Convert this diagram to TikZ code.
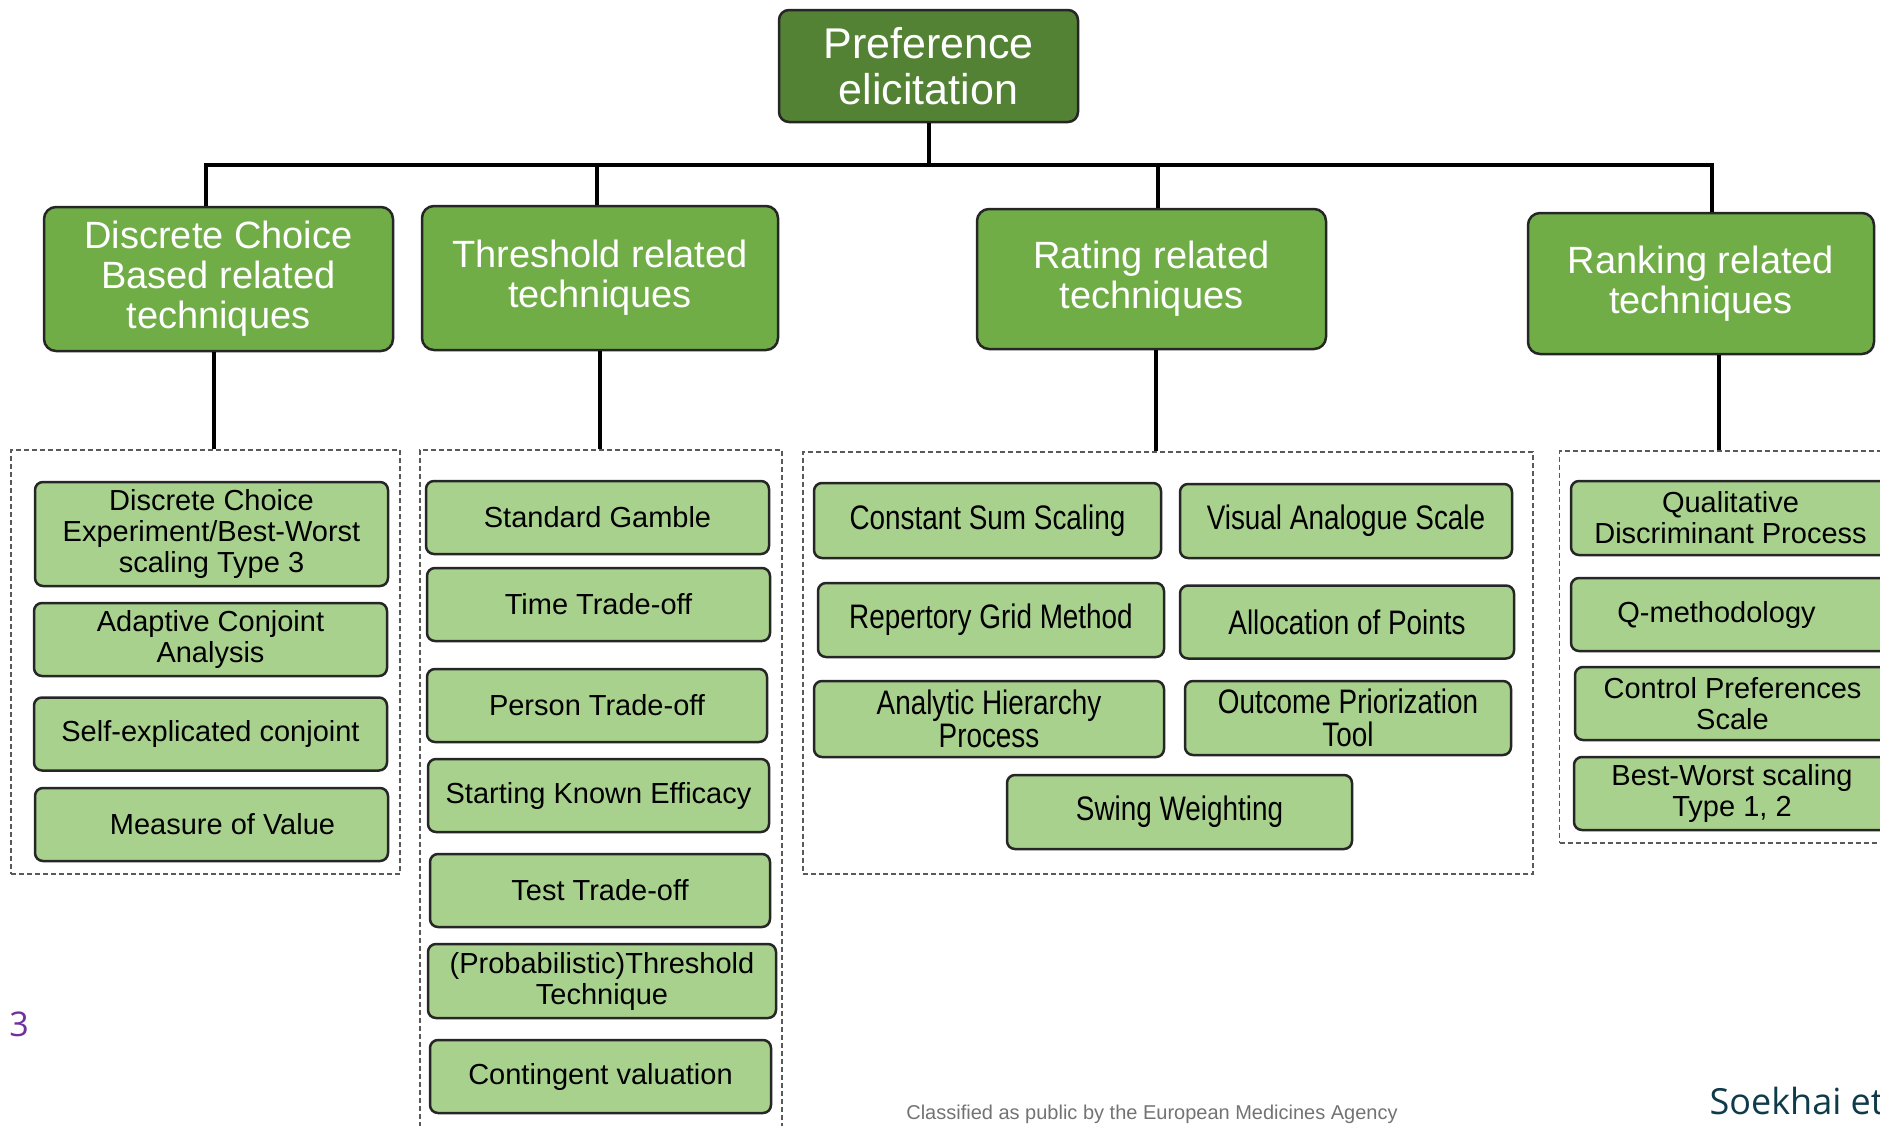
\documentclass[tikz,border=0pt]{standalone}
\usepackage{fontspec}
\setmainfont{Liberation Sans}
\newfontfamily\narrowfont[FakeStretch=0.82]{Liberation Sans}
\newfontfamily\notefont{Open Sans}
\usetikzlibrary{positioning}
\definecolor{darkgreen}{HTML}{548235}
\definecolor{midgreen}{HTML}{70AD47}
\definecolor{lightgreen}{HTML}{A9D18E}
\definecolor{edgegray}{HTML}{262626}
\definecolor{pagenum}{HTML}{7030A0}
\definecolor{citeblue}{HTML}{0E3A4A}
\tikzset{%
   head/.style={draw=edgegray, line width=2.5pt, rounded corners=10pt, fill=darkgreen, text=white, align=center, inner sep=0pt, font=\fontsize{43}{46}\selectfont},
   cat/.style={draw=edgegray, line width=2.5pt, rounded corners=12pt, fill=midgreen, text=white, align=center, inner sep=0pt, font=\fontsize{38}{40}\selectfont},
   tech/.style={draw=edgegray, line width=2.5pt, rounded corners=8pt, fill=lightgreen, align=center, inner sep=0pt, minimum height=73pt, font=\fontsize{29}{31}\selectfont},
   ntech/.style={tech, font=\narrowfont\fontsize{34}{33}\selectfont},
   grp/.style={draw=black!65, line width=1.5pt, dash pattern=on 5pt off 3pt, inner sep=0pt},
   link/.style={line width=4pt},
}

\begin{document}
\begin{tikzpicture}[x=1pt, y=-1pt]
   \useasboundingbox (0,0) rectangle (1880,1125);
   \clip (0,0) rectangle (1880,1125);
   % dashed groups
   \node[grp, minimum width=389pt, minimum height=424pt] (dcgrp) at (205.5,662) {};
   \node[grp, minimum width=362pt, minimum height=700pt] (thgrp) at (601,800) {};
   \node[grp, minimum width=730pt, minimum height=422pt] (rtgrp) at (1168,663) {};
   \node[grp, minimum width=345pt, minimum height=392pt] (rkgrp) at (1732,647) {};
   % top and categories
   \node[head, minimum width=299pt, minimum height=112pt] (pe) at (928.5,66) {Preference\\elicitation};
   \node[cat, minimum width=349pt, minimum height=144pt] (dc) at (218.5,279) {Discrete Choice\\Based related\\techniques};
   \node[cat, minimum width=356pt, minimum height=144pt] (th) at (600,278) {Threshold related\\techniques};
   \node[cat, minimum width=349pt, minimum height=140pt] (rt) at (1151.5,279) {Rating related\\techniques};
   \node[cat, minimum width=346pt, minimum height=141pt] (rk) at (1701,283.5) {Ranking related\\techniques};
   % discrete choice
   \node[tech, minimum width=353pt, minimum height=104pt] (dce) at (211.5,534) {Discrete Choice\\Experiment/Best-Worst\\scaling Type 3};
   \node[tech, minimum width=353pt] (aca) at (210.5,639.5) {Adaptive Conjoint\\Analysis};
   \node[tech, minimum width=353pt] (sec) at (210.5,734) {Self-explicated conjoint};
   \node[tech, minimum width=353pt] (mov) at (211.5,824.5) {\hspace{22pt}Measure of Value};
   % threshold
   \node[tech, minimum width=343pt] (sg) at (597.5,517.5) {Standard Gamble};
   \node[tech, minimum width=343pt] (tto) at (598.5,604.5) {Time Trade-off};
   \node[tech, minimum width=340pt] (pto) at (597,705.5) {Person Trade-off};
   \node[tech, minimum width=341pt] (ske) at (598.5,795.5) {Starting Known Efficacy};
   \node[tech, minimum width=340pt] (tst) at (600,890.5) {Test Trade-off};
   \node[tech, minimum width=348pt, minimum height=74pt] (ptt) at (602,981) {(Probabilistic)Threshold\\Technique};
   \node[tech, minimum width=341pt] (cv) at (600.5,1076.5) {Contingent valuation};
   % rating
   \node[ntech, minimum width=347pt, minimum height=75pt] (css) at (987.5,520.5) {Constant Sum Scaling};
   \node[ntech, minimum width=332pt, minimum height=74pt] (vas) at (1346,521) {Visual Analogue Scale};
   \node[ntech, minimum width=346pt, minimum height=74pt] (rgm) at (991,620) {Repertory Grid Method};
   \node[ntech, minimum width=334pt] (aop) at (1347,622) {Allocation of Points};
   \node[ntech, minimum width=350pt, minimum height=76pt] (ahp) at (989,719) {Analytic Hierarchy\\Process};
   \node[ntech, minimum width=326pt, minimum height=74pt] (opt) at (1348,718) {Outcome Priorization\\Tool};
   \node[ntech, minimum width=345pt, minimum height=74pt] (sw) at (1179.5,812) {Swing Weighting};
   % ranking
   \node[tech, minimum width=319pt, minimum height=74pt] (qdp) at (1730.5,518) {Qualitative\\Discriminant Process};
   \node[tech, minimum width=319pt] (qm) at (1730.5,614.5) {Q-methodology\hspace{28pt}};
   \node[tech, minimum width=315pt] (cps) at (1732.5,703.5) {Control Preferences\\Scale};
   \node[tech, minimum width=316pt] (bws) at (1732,793.5) {Best-Worst scaling\\Type 1, 2};
   % connectors
   \coordinate (bus) at (928.5,165);
   \draw[link] (pe.south) -- (bus);
   \draw[link] ([xshift=-13pt]dc.north) |- (bus);
   \draw[link] ([xshift=-3pt]th.north) |- (bus);
   \draw[link] ([xshift=6pt]rt.north) |- (bus);
   \draw[link] ([xshift=11pt]rk.north) |- (bus);
   \coordinate (dcdrop) at ([xshift=-5pt]dc.south);
   \coordinate (rtdrop) at ([xshift=4pt]rt.south);
   \coordinate (rkdrop) at ([xshift=18pt]rk.south);
   \draw[link] (dcdrop) -- (dcdrop |- dcgrp.north);
   \draw[link] (th.south) -- (th.south |- thgrp.north);
   \draw[link] (rtdrop) -- (rtdrop |- rtgrp.north);
   \draw[link] (rkdrop) -- (rkdrop |- rkgrp.north);
   % page texts
   \node[text=pagenum, font=\notefont\fontsize{34}{36}\selectfont] (pgnum) at (19,1024) {3};
   \node[text=black!55, font=\fontsize{20}{22}\selectfont] (classif) at (1152,1114) {Classified as public by the European Medicines Agency};
   \node[anchor=west, text=citeblue, font=\notefont\fontsize{36}{40}\selectfont] (cite) at (1706,1101) {Soekhai et};
\end{tikzpicture}
\end{document}
